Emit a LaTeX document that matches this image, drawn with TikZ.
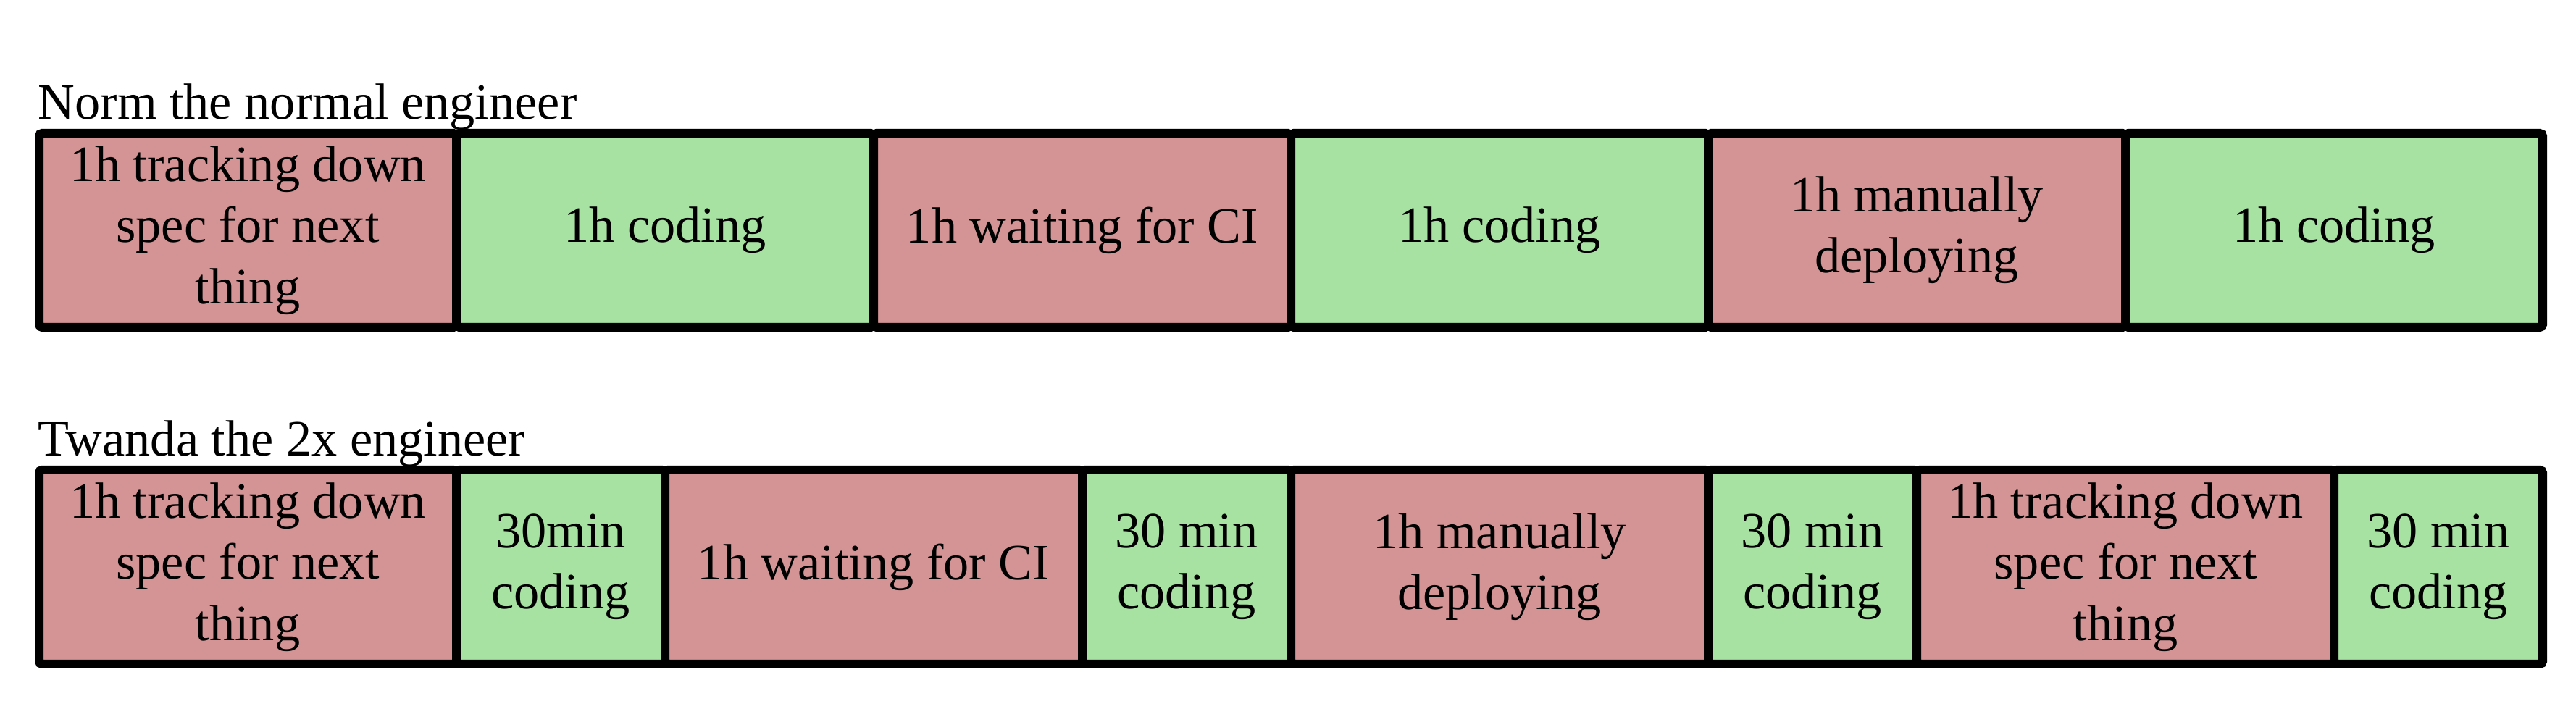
\documentclass[tikz,border=0pt]{standalone}
\usepackage{fontspec}
\setmainfont{Liberation Serif}
\definecolor{slowred}{HTML}{D49495}
\definecolor{codegreen}{HTML}{A8E2A3}

\begin{document}
\begin{tikzpicture}
  [every node/.style={inner sep=0pt,align=center,font=\fontsize{20}{24}\selectfont},
   task/.style={draw=black,line width=0.12cm,rounded corners=0.04cm,minimum height=2.68cm},
   wait/.style={task,fill=slowred,minimum width=5.76cm},
   code/.style={task,fill=codegreen,minimum width=5.76cm},
   half/.style={task,fill=codegreen,minimum width=2.88cm}]
  \useasboundingbox (0,0) rectangle (35.56,9.68);
  % Norm
  \node[anchor=base west] (norm) at (0.52,8.03) {Norm the normal engineer};
  \node[wait] (na) at (3.42,6.50) {1h tracking down\\spec for next\\thing};
  \node[code] (nb) at (9.18,6.50) {1h coding};
  \node[wait] (nc) at (14.94,6.50) {1h waiting for CI};
  \node[code] (nd) at (20.70,6.50) {1h coding};
  \node[wait] (ne) at (26.46,6.50) {1h manually\\deploying};
  \node[code] (nf) at (32.22,6.50) {1h coding};
  % Twanda
  \node[anchor=base west] (twanda) at (0.52,3.38) {Twanda the 2x engineer};
  \node[wait] (ta) at (3.42,1.85) {1h tracking down\\spec for next\\thing};
  \node[half] (tb) at (7.74,1.85) {30min\\coding};
  \node[wait] (tc) at (12.06,1.85) {1h waiting for CI};
  \node[half] (td) at (16.38,1.85) {30 min\\coding};
  \node[wait] (te) at (20.70,1.85) {1h manually\\deploying};
  \node[half] (tf) at (25.02,1.85) {30 min\\coding};
  \node[wait] (tg) at (29.34,1.85) {1h tracking down\\spec for next\\thing};
  \node[half] (th) at (33.66,1.85) {30 min\\coding};
\end{tikzpicture}
\end{document}
